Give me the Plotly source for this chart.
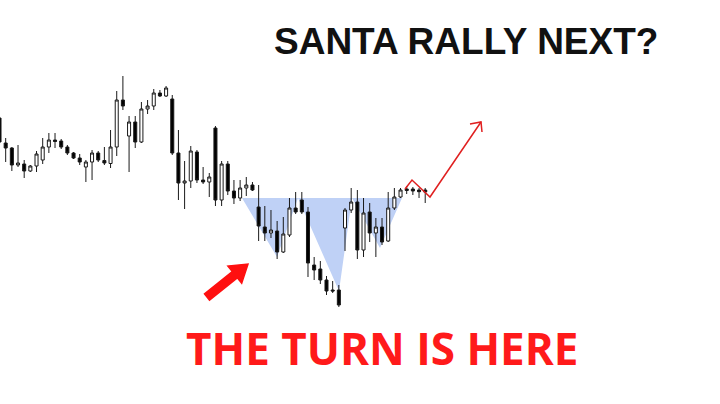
import plotly.graph_objects as go

# Candle values (price units; larger = higher on chart)
idx = list(range(70))
open_y = [118,143,148,165,164,171,166,160,147,140,141,147,153,158,167,162,153,160.5,163.5,147,
          100,136,122,142,109,106,93,96,99,153,183,181,152,180,182,128,200,164,191,198,
          188,185,207,227,233,231,252,235,208,200,212,265,269,280,290,290,228,210,202,250,
          212,233,227,241,208,197,189,189,190,190]
high_y = [116,138,147,145,160,165,151,138,133,133,139,145,152,154,160,150,151,147,130,91,
          76,116,116,102,100,89,90,86,95,130,161,146,150,167,173,126,161,161,180,180,
          177,182,185,206,210,221,217,198,192,192,207,257,261,276,281,285,208,188,190,198,
          203,218,218,192,188,188,186,187,188,188]
low_y = [145,162,171,167,178,172,172,164,153,148,149,155,159,165,182,180,162,165,168,156,
         110,172,148,143,114,110,97,97,155,200,209,188,183,184,197,206,206,195,204,201,
         196,191,241,241,238,259,253,237,214,214,277,280,284,295,293,307,251,213,259,257,
         242,257,245,242,210,198,194,195,198,203]
close_y = [142,148,165,163,171,166,154,147,140,141.5,147,153,158,162,162,153,160,163,147,100,
           106,122,142,109,106,93,96,88,153,183,181,151,180,182,177,200,164,191,198,188,
           185,190,226,233,230,252,234,208,212,212,263,270,280,291,291,305,210,202,250,213,
           233,227,242,208,197,190,190.5,191,191.7,192]

BASE = 404
o = [BASE - v for v in open_y]
h = [BASE - v for v in high_y]
l = [BASE - v for v in low_y]
c = [BASE - v for v in close_y]

W, H = 720, 404
def X(px): return px / W
def Y(py): return 1 - py / H

fig = go.Figure()
fig.add_trace(go.Candlestick(
    x=idx, open=o, high=h, low=l, close=c,
    increasing=dict(line=dict(color='#1a1a1a', width=1), fillcolor='white'),
    decreasing=dict(line=dict(color='#1a1a1a', width=1), fillcolor='black'),
    whiskerwidth=0, showlegend=False, hoverinfo='skip'))

# Blue inverse head & shoulders area
pts = [(242,198),(277,257),(298,198),(339,291),(352,198),(380,248),(402,198)]
path = "M " + " L ".join(f"{X(a):.5f},{Y(b):.5f}" for a, b in pts) + " Z"
shapes = [dict(type='path', xref='paper', yref='paper', path=path,
               fillcolor='#bfd1f6', line=dict(width=0), layer='below')]

# Red thick arrow (bottom-left)
arrow = [(209.5,300.1),(237.3,277.8),(241.7,283.3),(248,264),(227.9,266.1),(232.3,271.6),(204.5,293.9)]
apath = "M " + " L ".join(f"{X(a):.5f},{Y(b):.5f}" for a, b in arrow) + " Z"
shapes.append(dict(type='path', xref='paper', yref='paper', path=apath,
                   fillcolor='#ff1010', line=dict(color='#ff1010', width=1.5), layer='above'))

# Red projection line
proj = [(405,189),(412,180),(430,197),(481,122)]
ppath = "M " + " L ".join(f"{X(a):.5f},{Y(b):.5f}" for a, b in proj)
shapes.append(dict(type='path', xref='paper', yref='paper', path=ppath,
                   line=dict(color='#e02020', width=1.5), layer='above'))
head = [(470,124),(481,122),(482,132)]
hpath = "M " + " L ".join(f"{X(a):.5f},{Y(b):.5f}" for a, b in head)
shapes.append(dict(type='path', xref='paper', yref='paper', path=hpath,
                   line=dict(color='#e02020', width=1.5), layer='above'))

annotations = [
    dict(text="<b>SANTA RALLY NEXT?</b>", xref='paper', yref='paper', x=X(466), y=Y(42),
         xanchor='center', yanchor='middle', showarrow=False,
         font=dict(family='Liberation Sans, Arial', size=37, color='#111111')),
    dict(text="<b>THE TURN IS HERE</b>", xref='paper', yref='paper', x=X(382), y=Y(348),
         xanchor='center', yanchor='middle', showarrow=False,
         font=dict(family='Open Sans', size=44, color='#ff1a1a')),
]

fig.update_layout(
    width=W, height=H, margin=dict(l=0, r=0, t=0, b=0),
    paper_bgcolor='white', plot_bgcolor='white',
    xaxis=dict(visible=False, range=[0.08, 116.78], rangeslider=dict(visible=False), fixedrange=True),
    yaxis=dict(visible=False, range=[0, 404], fixedrange=True),
    shapes=shapes, annotations=annotations, boxgap=0.3, showlegend=False)

fig.write_html("out.html", config={'displayModeBar': False},
               post_script="document.body.style.margin='0';")
